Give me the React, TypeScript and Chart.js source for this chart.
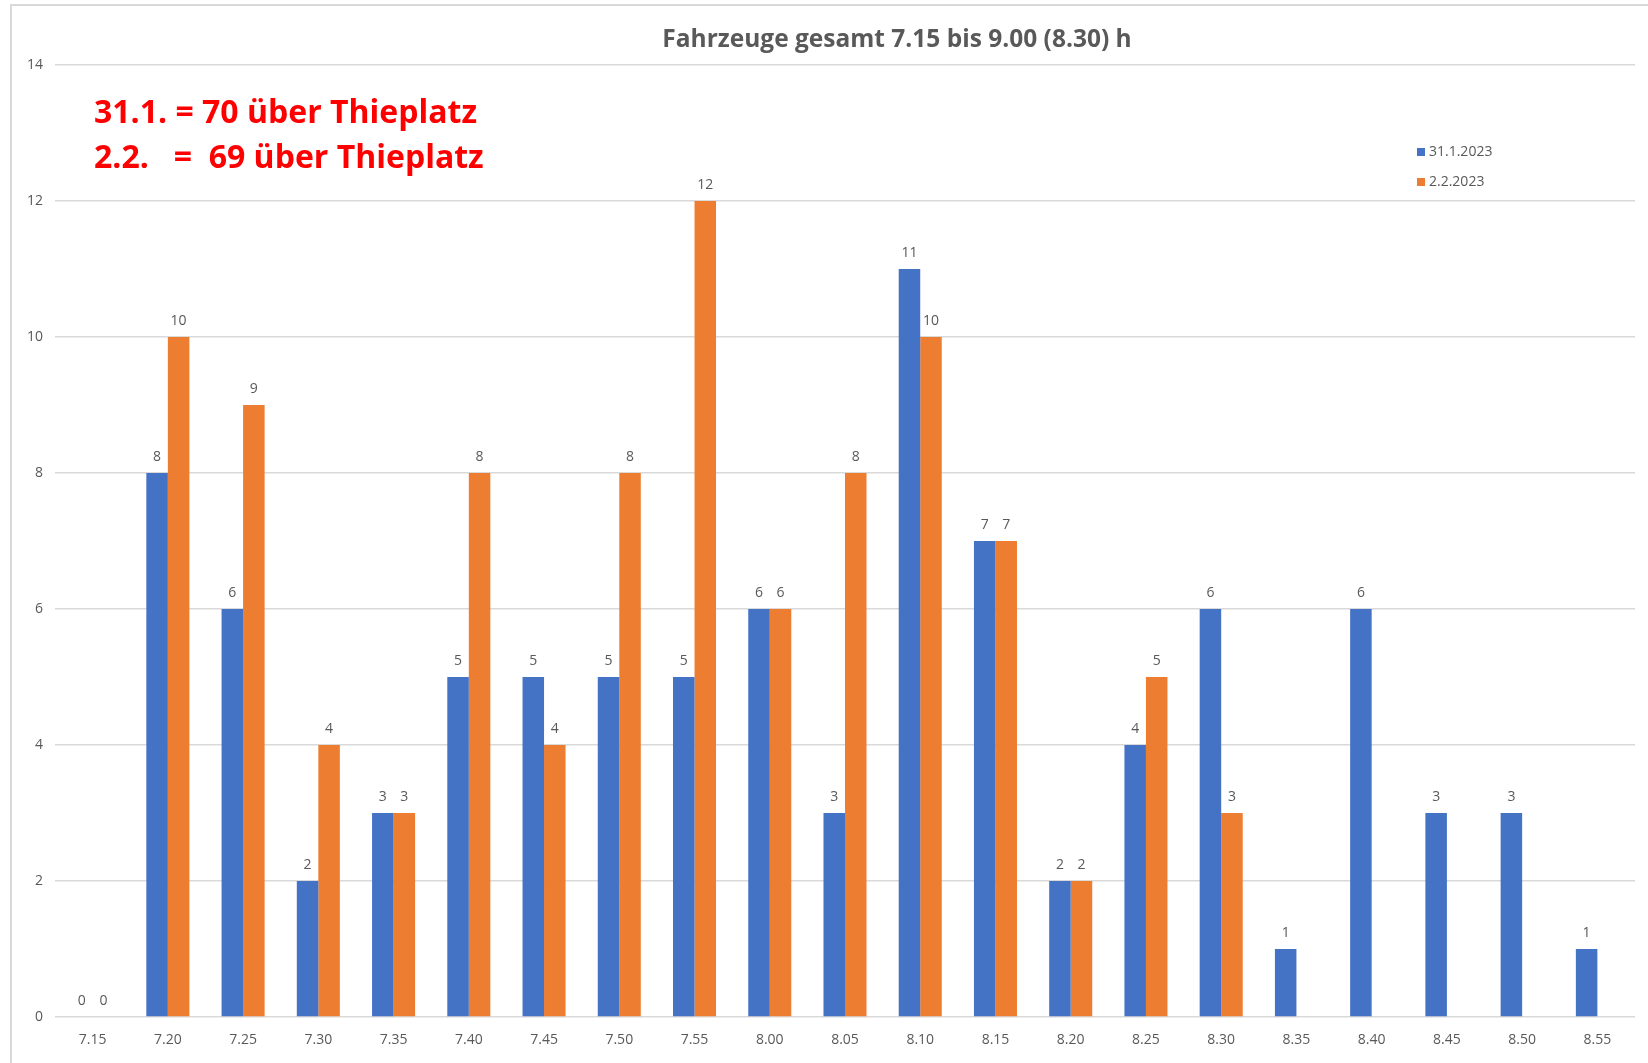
import React, { useEffect, useRef } from 'react';
import { Chart, registerables } from 'chart.js';

Chart.register(...registerables);

const categories = ['7.15', '7.20', '7.25', '7.30', '7.35', '7.40', '7.45', '7.50', '7.55', '8.00', '8.05', '8.10', '8.15', '8.20', '8.25', '8.30', '8.35', '8.40', '8.45', '8.50', '8.55'];
const seriesLabels = ['31.1.2023', '2.2.2023'];
const vehicles3101 = [0, 8, 6, 2, 3, 5, 5, 5, 5, 6, 3, 11, 7, 2, 4, 6, 1, 6, 3, 3, 1];
const vehicles0202 = [0, 10, 9, 4, 3, 8, 4, 8, 12, 6, 8, 10, 7, 2, 5, 3, null, null, null, null, null];
const yMin = 0;
const yMax = 14;
const yStep = 2;
const chartTitle = 'Fahrzeuge gesamt 7.15 bis 9.00 (8.30) h';
const noteLines = ['31.1. = 70 über Thieplatz', '2.2.   =  69 über Thieplatz'];
const seriesColors = ['#4472C4', '#ED7D31'];

const FONT = "'Open Sans', sans-serif";
const TEXT_GRAY = '#595959';

export default function App() {
  const ref = useRef<HTMLCanvasElement>(null);

  useEffect(() => {
    const canvas = ref.current;
    if (!canvas) return;

    const decor = {
      id: 'decor',
      beforeDraw(chart: any) {
        const ctx = chart.ctx;
        ctx.save();
        ctx.fillStyle = '#ffffff';
        ctx.fillRect(0, 0, chart.width, chart.height);
        ctx.strokeStyle = '#d9d9d9';
        ctx.lineWidth = 2;
        ctx.beginPath();
        ctx.moveTo(11, chart.height);
        ctx.lineTo(11, 5);
        ctx.lineTo(chart.width, 5);
        ctx.stroke();
        ctx.restore();
      },
      afterDatasetsDraw(chart: any) {
        const ctx = chart.ctx;
        ctx.save();
        ctx.font = `14px ${FONT}`;
        ctx.fillStyle = TEXT_GRAY;
        ctx.textAlign = 'center';
        ctx.textBaseline = 'middle';
        chart.data.datasets.forEach((ds: any, i: number) => {
          const meta = chart.getDatasetMeta(i);
          meta.data.forEach((bar: any, j: number) => {
            const v = ds.data[j];
            if (v == null) return;
            ctx.fillText(String(v), bar.x, bar.y - 16);
          });
        });
        ctx.restore();
      },
      afterDraw(chart: any) {
        const ctx = chart.ctx;
        ctx.save();
        // title
        ctx.font = `bold 24.5px ${FONT}`;
        ctx.fillStyle = TEXT_GRAY;
        ctx.textAlign = 'center';
        ctx.textBaseline = 'alphabetic';
        ctx.fillText(chartTitle, 897, 47);
        // note
        ctx.font = `bold 32px ${FONT}`;
        ctx.fillStyle = '#FF0000';
        ctx.textAlign = 'left';
        noteLines.forEach((line, i) => {
          ctx.fillText(line, 94, 123 + i * 45);
        });
        // legend
        ctx.font = `14px ${FONT}`;
        ctx.textBaseline = 'middle';
        chart.data.datasets.forEach((ds: any, i: number) => {
          const y = 152 + i * 30;
          ctx.fillStyle = ds.backgroundColor;
          ctx.fillRect(1417, y - 4, 8, 8);
          ctx.fillStyle = TEXT_GRAY;
          ctx.fillText(ds.label, 1429, y);
        });
        ctx.restore();
      },
    };

    const chart = new Chart(canvas, {
      type: 'bar',
      data: {
        labels: categories,
        datasets: [
          { label: seriesLabels[0], data: vehicles3101, backgroundColor: seriesColors[0], borderWidth: 0 },
          { label: seriesLabels[1], data: vehicles0202, backgroundColor: seriesColors[1], borderWidth: 0 },
        ],
      },
      options: {
        animation: false,
        responsive: false,
        maintainAspectRatio: false,
        layout: { padding: { top: 65, right: 13, bottom: 0, left: 0 } },
        datasets: { bar: { categoryPercentage: 0.572, barPercentage: 1 } },
        plugins: {
          legend: { display: false },
          title: { display: false },
          tooltip: { enabled: false },
        },
        scales: {
          x: {
            grid: { display: false, drawTicks: false },
            border: { display: false },
            ticks: { color: TEXT_GRAY, font: { family: FONT, size: 14 }, padding: 15, maxRotation: 0 },
            afterFit(scale: any) { scale.height = 46; },
          },
          y: {
            min: yMin,
            max: yMax,
            grid: { color: '#d9d9d9', lineWidth: 1.5, drawTicks: false },
            border: { display: false },
            ticks: { stepSize: yStep, color: TEXT_GRAY, font: { family: FONT, size: 14 }, padding: 12 },
            afterFit(scale: any) { scale.width = 55; },
          },
        },
      },
      plugins: [decor],
    } as any);

    return () => chart.destroy();
  }, []);

  return (
    <div style={{ position: 'fixed', left: 0, top: 0, width: 1648, height: 1063, background: '#fff' }}>
      <canvas ref={ref} width={1648} height={1063} style={{ display: 'block', width: 1648, height: 1063 }} />
    </div>
  );
}
